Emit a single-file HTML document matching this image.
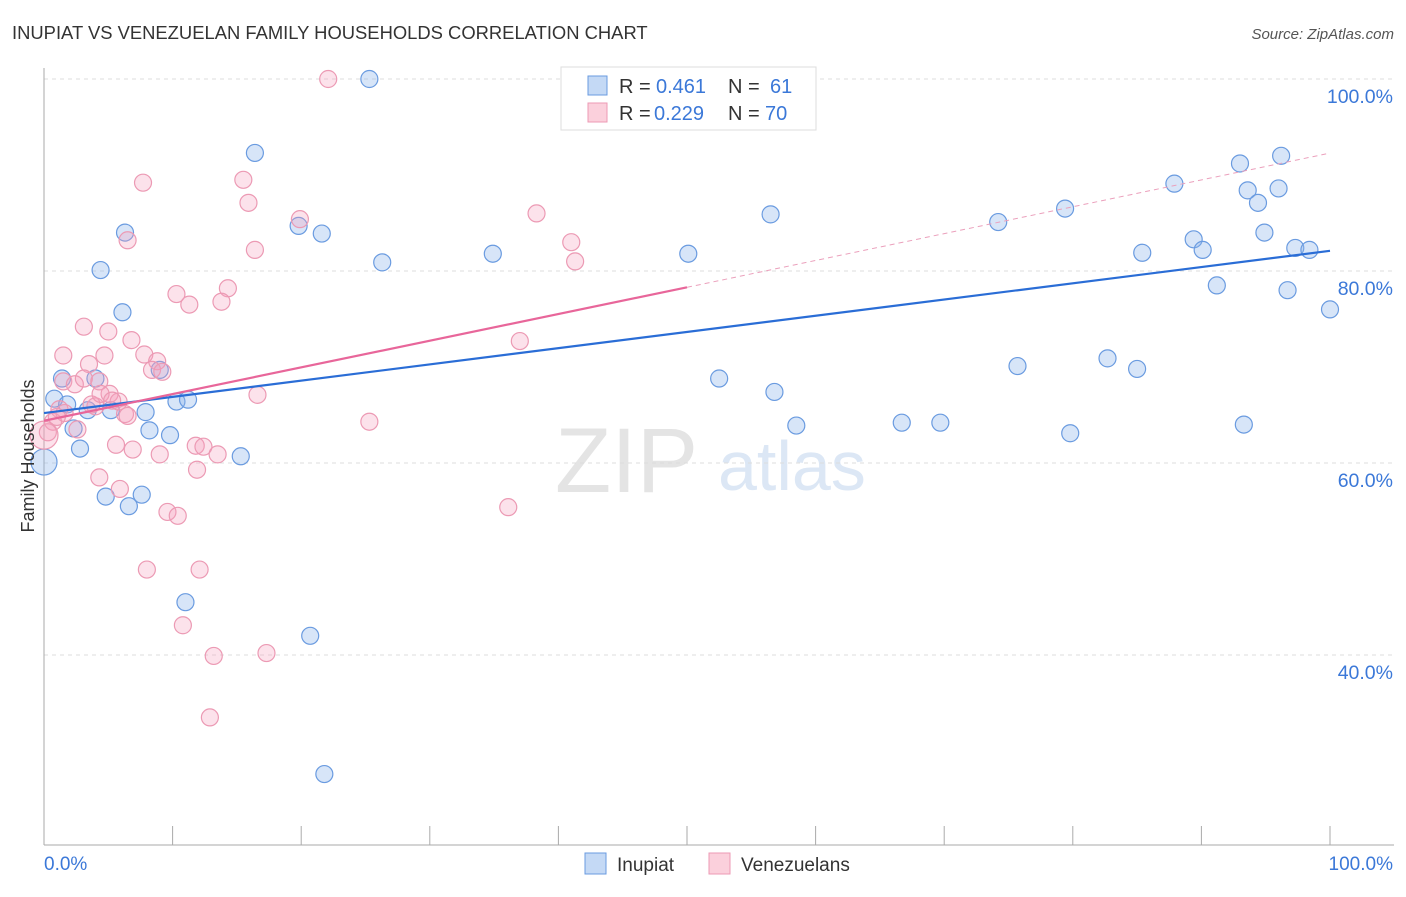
<!DOCTYPE html>
<html><head><meta charset="utf-8"><style>
body{margin:0;background:#fff;font-family:"Liberation Sans",sans-serif}
svg text{font-family:"Liberation Sans",sans-serif}
</style></head><body>
<svg id="c" width="1406" height="892">
<text x="12" y="39" font-size="18.4" fill="#333">INUPIAT VS VENEZUELAN FAMILY HOUSEHOLDS CORRELATION CHART</text>
<text x="1394" y="39" font-size="15" fill="#555" font-style="italic" text-anchor="end">Source: ZipAtlas.com</text>
<text x="555" y="492" font-size="92" fill="#e4e4e4" font-family="Liberation Serif">ZIP</text>
<text x="718" y="490" font-size="70" fill="#dce7f5">atlas</text>
<g id="grid"></g><g id="pts"></g><g id="lines"></g>
<text transform="translate(34,456) rotate(-90)" font-size="18" fill="#333" text-anchor="middle">Family Households</text>
<text x="44" y="870" font-size="19" fill="#3b78d8">0.0%</text>
<text x="1393" y="870" font-size="19" fill="#3b78d8" text-anchor="end">100.0%</text>
<g>
<rect x="561" y="67" width="255" height="63" fill="#fff" stroke="#ddd"/>
<rect x="588" y="76" width="19" height="19" fill="#c4d9f5" stroke="#6a9be0"/>
<rect x="588" y="103" width="19" height="19" fill="#fbd0dc" stroke="#ec9ab4"/>
<text x="619" y="93" font-size="20" fill="#333">R = </text>
<text x="656" y="93" font-size="20" fill="#3b78d8">0.461</text>
<text x="728" y="93" font-size="20" fill="#333">N = </text>
<text x="770" y="93" font-size="20" fill="#3b78d8">61</text>
<text x="619" y="120" font-size="20" fill="#333">R = </text>
<text x="654" y="120" font-size="20" fill="#3b78d8">0.229</text>
<text x="728" y="120" font-size="20" fill="#333">N = </text>
<text x="765" y="120" font-size="20" fill="#3b78d8">70</text>
</g>
<g>
<rect x="585" y="853" width="21" height="21" fill="#c4d9f5" stroke="#6a9be0"/>
<text x="617" y="871" font-size="19" fill="#333">Inupiat</text>
<rect x="709" y="853" width="21" height="21" fill="#fbd0dc" stroke="#ec9ab4"/>
<text x="741" y="871" font-size="19" fill="#333">Venezuelans</text>
</g>
</svg>
<script>
const yTicks=[40,60,80,100];
const xTicks=[0,10,20,30,40,50,60,70,80,90,100];
const inupiatX=[25.3,16.4,6.3,19.8,21.6,4.4,26.3,34.9,50.1,56.5,6.1,1.4,0.8,1.8,4.0,9.0,5.2,7.9,3.4,10.3,11.2,2.3,8.2,9.8,2.8,15.3,0,4.8,7.6,6.6,11.0,20.7,21.8,52.5,56.8,58.5,66.7,69.7,75.7,79.8,82.7,85.0,93.3,74.2,79.4,85.4,87.9,89.4,90.1,91.2,93.0,93.6,94.4,94.9,96.0,96.2,96.7,97.3,98.4,100,47.1];
const inupiatY=[100,92.3,84,84.7,83.9,80.1,80.9,81.8,81.8,85.9,75.7,68.8,66.7,66.1,68.8,69.7,65.5,65.3,65.5,66.4,66.6,63.6,63.4,62.9,61.5,60.7,60.1,56.5,56.7,55.5,45.5,42,27.6,68.8,67.4,63.9,64.2,64.2,70.1,63.1,70.9,69.8,64,85.1,86.5,81.9,89.1,83.3,82.2,78.5,91.2,88.4,87.1,84,88.6,92,78,82.4,82.2,76,100];
const venX=[22.1,7.7,15.5,15.9,19.9,6.5,16.4,38.3,41.0,41.3,10.3,11.3,14.3,13.8,3.1,5.0,6.8,1.5,4.7,7.8,8.8,8.4,9.2,3.5,1.5,2.4,3.1,4.3,4.0,5.1,5.8,6.3,6.5,16.6,37.0,25.3,1.2,0.7,0.3,0,2.6,4.3,5.9,5.6,6.9,9.0,11.8,12.4,13.5,11.9,9.6,10.4,36.1,8.0,12.1,10.8,13.2,17.3,12.9,3.7,1.6,1.0,4.4,5.3];
const venY=[100,89.2,89.5,87.1,85.4,83.2,82.2,86,83,81,77.6,76.5,78.2,76.8,74.2,73.7,72.8,71.2,71.2,71.3,70.6,69.7,69.5,70.3,68.5,68.2,68.8,68.5,65.9,67.2,66.4,65.1,64.9,67.1,72.7,64.3,65.6,64.3,63.2,62.9,63.5,58.5,57.3,61.9,61.4,60.9,61.8,61.7,60.9,59.3,54.9,54.5,55.4,48.9,48.9,43.1,39.9,40.2,33.5,66.1,65.2,64.8,67.2,66.5];
const X0=44,X1=1330;
const xs=v=>X0+(X1-X0)*v/100;
const ys=v=>79+(100-v)*9.6;
const ns='http://www.w3.org/2000/svg';
function mk(t,a,p){const e=document.createElementNS(ns,t);for(const k in a)e.setAttribute(k,a[k]);p.appendChild(e);return e;}
const g=document.getElementById('grid');
for(const t of yTicks){
 const l=mk('line',{x1:44,x2:1394,y1:ys(t),y2:ys(t),stroke:'#ddd','stroke-dasharray':'4,4'},g);
 
 
 const tx=mk('text',{x:1393,y:ys(t)+24,'font-size':19.5,fill:'#3b78d8','text-anchor':'end'},g);
 tx.textContent=t.toFixed(1)+'%';
 
 
}
mk('line',{x1:44,x2:44,y1:68,y2:845,stroke:'#aaa'},g);
mk('line',{x1:44,x2:1394,y1:845,y2:845,stroke:'#aaa'},g);
for(const t of xTicks){
 const l=mk('line',{x1:xs(t),x2:xs(t),y1:826,y2:845,stroke:'#aaa'},g);
 
 
}
const p=document.getElementById('pts');
inupiatX.forEach((x,i)=>{
 const c=mk('circle',{cx:xs(x),cy:ys(inupiatY[i]),r:x===0?13:8.5,fill:'rgba(140,180,235,0.35)',stroke:'#6a9be0','stroke-width':1.2},p);
 
 
});
venX.forEach((x,i)=>{
 const c=mk('circle',{cx:xs(x),cy:ys(venY[i]),r:x===0?14:8.5,fill:'rgba(245,160,190,0.3)',stroke:'#ec9ab4','stroke-width':1.2},p);
 
 
});
const L=document.getElementById('lines');
const b=mk('line',{x1:xs(0),y1:ys(65.2),x2:xs(100),y2:ys(82.1),stroke:'#2a6dd6','stroke-width':2.2},L);


const r=mk('line',{x1:xs(0),y1:ys(64.4),x2:xs(50),y2:ys(78.3),stroke:'#e8669a','stroke-width':2.2},L);


const d=mk('line',{x1:xs(50),y1:ys(78.3),x2:xs(99.7),y2:ys(92.2),stroke:'#eba0bc','stroke-width':1,'stroke-dasharray':'5,4'},L);


</script>
</body></html>
